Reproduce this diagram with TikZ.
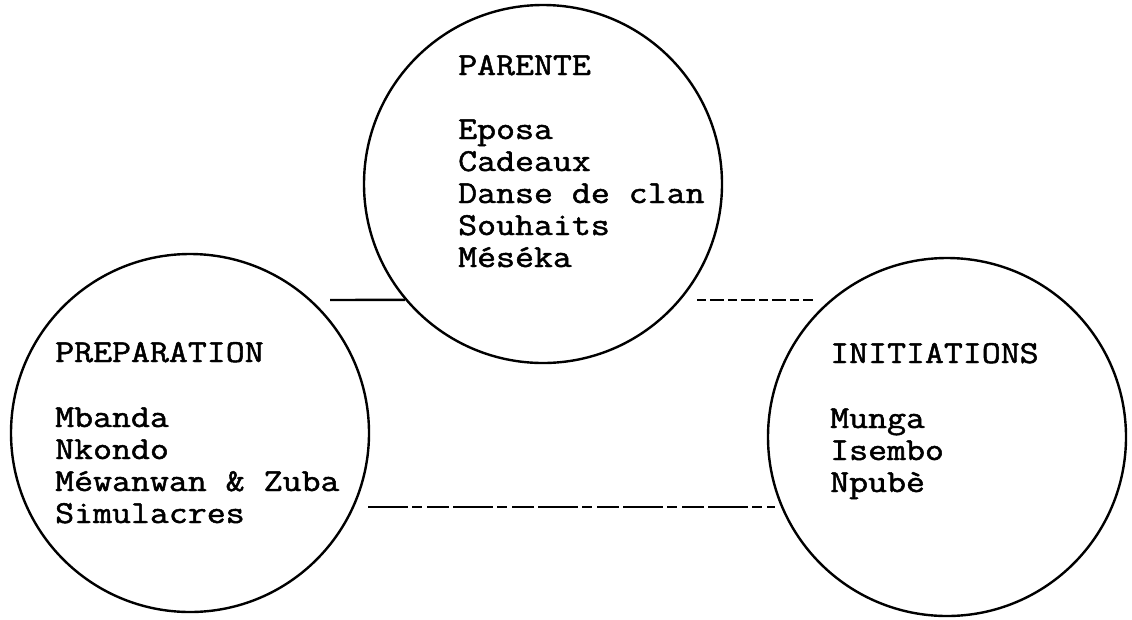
\documentclass[tikz,border=0pt]{standalone}
\usepackage{graphicx}
\usepackage{fontspec}
\newcommand\twfont{\ttfamily\fontsize{32}{32}\selectfont}
\newcommand\tw[1]{\scalebox{1.15}[1]{\special{pdf:literal direct 2 Tr 0.45 w}#1\special{pdf:literal direct 0 Tr}}}
\tikzset{
  ring/.style={circle,draw,line width=2.4pt,minimum size=358pt,inner sep=0pt},
  lbl/.style={anchor=base west,inner sep=0pt,font=\twfont},
  solidlink/.style={line width=2.4pt},
  typedash/.style={line width=2.2pt,dash pattern=on 9pt off 4pt on 14pt off 4pt},
  longdash/.style={line width=2.2pt,dash pattern=on 40pt off 4pt on 10pt off 5pt on 22pt off 4pt}
}
\begin{document}
\begin{tikzpicture}[x=1pt,y=-1pt]
\useasboundingbox (0,0) rectangle (1132,619);
\node[ring] (top) at (543,184) {};
\node[ring] (left) at (190,433) {};
\node[ring] (right) at (947,437) {};
% texts
\node[lbl] (ttl1) at (458,75) {\tw{PARENTE}};
\foreach \t [count=\i from 0] in {Eposa,Cadeaux,Danse de clan,Souhaits,Méséka}
  \node[lbl] (p\i) at (458,{139+32*\i}) {\tw{\t}};
\node[lbl] (ttl2) at (55,362) {\tw{PREPARATION}};
\foreach \t [count=\i from 0] in {Mbanda,Nkondo,Méwanwan \& Zuba,Simulacres}
  \node[lbl] (q\i) at (55,{427+32*\i}) {\tw{\t}};
\node[lbl] (ttl3) at (830,363) {\tw{INITIATIONS}};
\foreach \t [count=\i from 0] in {Munga,Isembo,Npubè}
  \node[lbl] (r\i) at (830,{428+32*\i}) {\tw{\t}};
% connectors
\coordinate (ua) at (330,300);
\coordinate (ub) at (697,300);
\coordinate (uc) at (813,300);
\coordinate (la) at (368,507);
\coordinate (lb) at (775,507);
\draw[solidlink] (ua) -- (top.220.5);
\draw[typedash] (ub) -- (uc);
\draw[longdash] (la) -- (lb);
\end{tikzpicture}
\end{document}
